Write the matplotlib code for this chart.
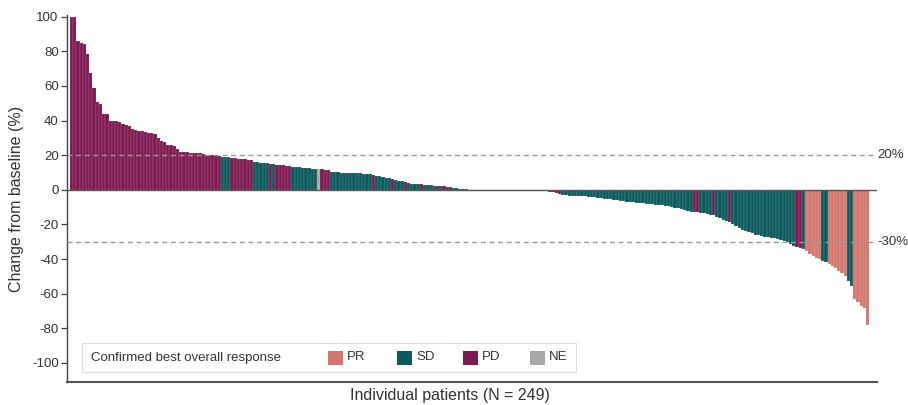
import matplotlib
matplotlib.use("Agg")
import matplotlib.pyplot as plt
from matplotlib.patches import Rectangle

plt.rcParams['font.family'] = ['Liberation Sans', 'DejaVu Sans']

# Per-patient best % change from baseline (sorted waterfall)
change = [
    100, 100, 86, 85, 84, 78.5, 67.6, 59, 51, 49.5, 44, 44, 40, 40, 39.5, 39, 38, 37.5, 37, 35,
    34.5, 34, 34, 33.5, 33, 33, 32, 30, 28, 27.5, 26, 26, 25.5, 23.5, 22, 22, 22, 21.5, 21.5, 21,
    21, 20.5, 20, 20, 20, 20, 19.8,
    19.2, 19, 18.8,
    18.4, 18.2, 18, 17.8, 17.6, 17.3, 17,
    16, 15.8, 15.6, 15.5, 15.4,
    15, 14.8, 14.6, 14.4, 14.2, 14, 13.8,
    13.4, 13.2, 13, 12.8, 12.6, 12.4, 12.2, 12.1,
    12,
    11.8, 11.6, 11.5,
    10.5, 10.3, 10.2, 10, 10, 9.9, 9.8, 9.7, 9.6, 9.5, 9.4, 9.3, 9.1,
    8.8,
    8.2, 7.8, 7.4, 7, 6.6,
    6.2,
    5.6, 5.2, 5,
    4.4,
    3.8, 3.6, 3.5, 3.4,
    3.2,
    2.8, 2.7, 2.6, 2.5,
    2.3, 2.2, 2, 1.8, 1.6, 1.2,
    0.8, 0.5, 0.3, 0.2,
    0.1, 0.1, 0, 0, 0, 0, 0, 0, 0, 0, 0, 0, 0, -0.1, -0.1, -0.2, -0.2, -0.2,
    -0.3, -0.4,
    -0.5, -0.6, -0.7, -0.8, -0.9, -1.0,
    -1.5, -2, -2.4,
    -3.1, -3.2, -3.3, -3.4, -3.5, -3.6, -3.7, -3.8, -3.9, -4.1, -4.3, -4.5, -4.8, -5.0, -5.2,
    -5.5, -5.8, -6.0, -6.3, -6.6, -6.8, -7.0, -7.2, -7.4, -7.5, -7.7, -7.9, -8.1, -8.3, -8.5,
    -8.7, -9.0, -9.2, -9.5, -9.8, -10.2, -10.6, -11.0, -11.5, -12.0, -12.6,
    -13, -13,
    -13.2, -13.6, -14, -14.3,
    -14.5,
    -15.5, -16.5, -17.5, -18,
    -18.3,
    -19.5, -21, -22, -23, -23.8, -24.5, -25.2, -25.8, -26.3, -26.7, -27.1, -27.5, -27.8, -28.1,
    -28.5, -29, -29.6, -30.4, -31.3, -32.3,
    -33.2, -33.6,
    -34.4,
    -35.5, -37, -38, -39.4, -40,
    -41, -41.8,
    -42.8, -44, -45.3, -46.7, -48, -49.6,
    -52.4, -55.3,
    -63, -65, -67, -68, -77.8,
]

# Confirmed best overall response, in the same order (runs of response, count)
response_runs = [
    ("PD", 47), ("SD", 3), ("PD", 7), ("SD", 5), ("PD", 1), ("SD", 1), ("PD", 5),
    ("SD", 8), ("NE", 1), ("PD", 3), ("SD", 13), ("PD", 1), ("SD", 5), ("PD", 1),
    ("SD", 3), ("PD", 1), ("SD", 4), ("PD", 1), ("SD", 4), ("PD", 1), ("SD", 1),
    ("PD", 1), ("SD", 1), ("PD", 1), ("SD", 1), ("SD", 4), ("SD", 18), ("PD", 2),
    ("SD", 6), ("PD", 3), ("SD", 41), ("PD", 2), ("SD", 4), ("PD", 1), ("SD", 4),
    ("PD", 1), ("SD", 20), ("PD", 2), ("SD", 1), ("PR", 5), ("SD", 2), ("PR", 6),
    ("SD", 2), ("PR", 5),
]

categories = ["PR", "SD", "PD", "NE"]
colors = {"PR": "#d5766e", "SD": "#0b5a5c", "PD": "#7e1a52", "NE": "#a8a8a8"}
y_ticks = [-100, -80, -60, -40, -20, 0, 20, 40, 60, 80, 100]
ref_lines = [20, -30]
ref_labels = ["20%", "-30%"]

response = [r for r, n in response_runs for _ in range(n)]
n_pat = len(change)

fig = plt.figure(figsize=(9.08, 4.05), dpi=100)
ax = fig.add_axes([67/908, 1-382/405, 810/908, 367/405])

x = list(range(n_pat))
ax.bar(x, change, width=1.0, color=[colors[r] for r in response],
       edgecolor=(1, 1, 1, 0.45), linewidth=0.2, zorder=2)

ax.set_xlim(-1.43, 250.9)
ax.set_ylim(-111, 101)

ax.axhline(0, color="#555555", lw=1.0, zorder=3)
for yv, lab in zip(ref_lines, ref_labels):
    ax.axhline(yv, color="#9a9a9a", lw=1.0, ls=(0, (3.6, 2.6)), zorder=4)
    ax.text(1.0, yv, lab, transform=ax.get_yaxis_transform(), ha="left", va="center",
            fontsize=9.5, color="#333333", clip_on=False)

ax.set_yticks(y_ticks)
ax.set_yticklabels([str(v) for v in y_ticks], fontsize=9.5, color="#333333")
ax.tick_params(axis="y", length=4, width=0.9, color="#444444", pad=2)
ax.set_xticks([])
for s in ["top", "right"]:
    ax.spines[s].set_visible(False)
ax.spines["left"].set_color("#444444")
ax.spines["left"].set_linewidth(1.0)
ax.spines["bottom"].set_color("#555555")
ax.spines["bottom"].set_linewidth(1.5)

ax.set_ylabel("Change from baseline (%)", fontsize=11.5, color="#333333", labelpad=6)
ax.set_xlabel("Individual patients (N = 249)", fontsize=11.5, color="#333333")
ax.xaxis.set_label_coords((450-67)/810, -0.015)
ax.xaxis.label.set_va("top")

# Legend box
def ax_x(px):
    return (px - 67) / 810
def ax_y(py):
    return (382 - py) / 367

ax.add_patch(Rectangle((ax_x(82), ax_y(372)), (576-82)/810, (372-343)/367,
                       transform=ax.transAxes, facecolor="white", edgecolor="#dddddd",
                       lw=0.8, zorder=5))
ax.text(ax_x(91), ax_y(357.5), "Confirmed best overall response", transform=ax.transAxes,
        ha="left", va="center", fontsize=9.5, color="#333333", zorder=6)
patch_x = [328, 397, 463, 530]
for cat, px in zip(categories, patch_x):
    ax.add_patch(Rectangle((ax_x(px), ax_y(364.5)), 15/810, 14/367, transform=ax.transAxes,
                           facecolor=colors[cat], edgecolor="none", zorder=6))
    ax.text(ax_x(px + 19), ax_y(357.5), cat, transform=ax.transAxes, ha="left", va="center",
            fontsize=9.5, color="#333333", zorder=6)

fig.savefig("out.png", dpi=100, facecolor="white")
